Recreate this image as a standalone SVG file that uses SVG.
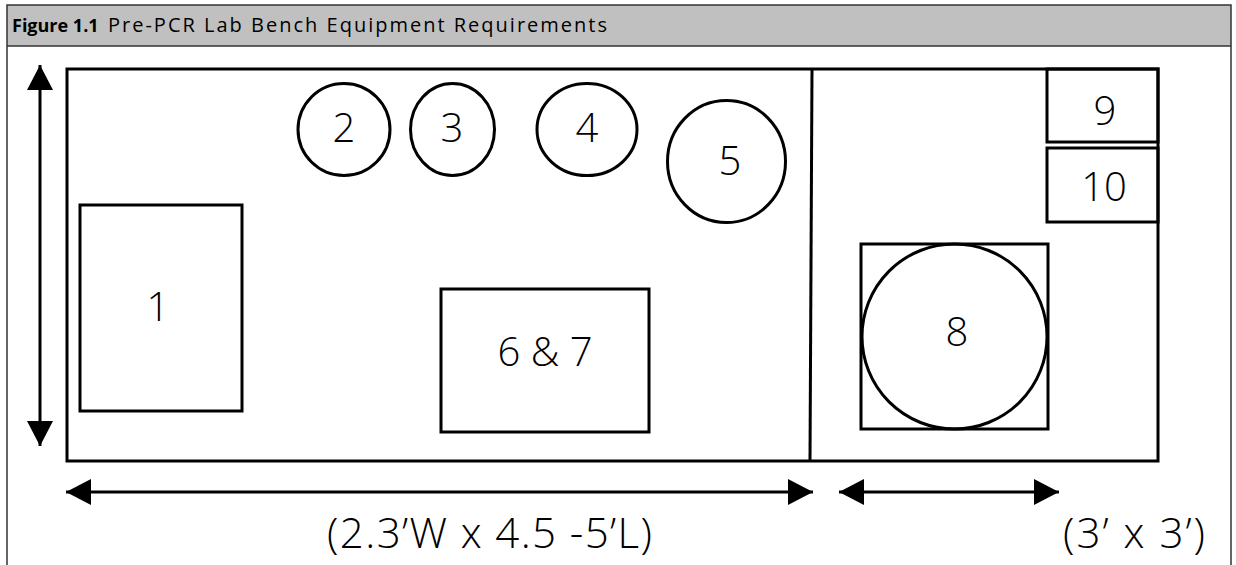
<svg xmlns="http://www.w3.org/2000/svg" width="1236" height="565" viewBox="0 0 1236 565">
<style>
.frame{fill:none;stroke:#333;stroke-width:1.5}
.shape{fill:none;stroke:#000;stroke-width:3}
.dim{stroke:#000;stroke-width:3}
.num{font-family:"Open Sans","Noto Sans",sans-serif;font-weight:300;font-size:40px;fill:#000;text-anchor:middle}
.lbl{font-family:"Open Sans","Noto Sans",sans-serif;font-weight:300;font-size:42px;fill:#000}
.hdr{font-family:"Open Sans","Noto Sans",sans-serif;font-size:20px;fill:#000}
</style>
<defs>
<marker id="ah" markerUnits="userSpaceOnUse" markerWidth="26" markerHeight="26" refX="25" refY="13" orient="auto-start-reverse" viewBox="0 0 26 26">
<path d="M0,0 L25,13 L0,26 z" fill="#000"/>
</marker>
</defs>
<rect x="0" y="0" width="1236" height="565" fill="#fff"/>
<g id="header">
<rect x="7" y="5" width="1224" height="41" fill="#c0c0c0"/>
<path class="frame" d="M7,565 V5 H1231 V565 M7,46 H1231"/>
<text class="hdr" y="32"><tspan x="12" font-weight="bold" font-size="18">Figure 1.1</tspan><tspan x="108" textLength="499">Pre-PCR Lab Bench Equipment Requirements</tspan></text>
</g>
<g id="bench">
<rect class="shape" x="67" y="69" width="1091" height="392"/>
<line class="shape" x1="812" y1="69" x2="810" y2="461"/>
</g>
<g id="n1"><rect class="shape" x="80" y="205" width="162" height="206"/><text class="num" x="158" y="321">1</text></g>
<g id="n2"><circle class="shape" cx="344" cy="129.5" r="46"/><text class="num" x="344" y="142">2</text></g>
<g id="n3"><ellipse class="shape" cx="452.5" cy="129.5" rx="42" ry="46"/><text class="num" x="452" y="142">3</text></g>
<g id="n4"><ellipse class="shape" cx="587" cy="129.5" rx="50" ry="46"/><text class="num" x="587" y="142">4</text></g>
<g id="n5"><ellipse class="shape" cx="726.5" cy="161.5" rx="59" ry="61"/><text class="num" x="730" y="175">5</text></g>
<g id="n67"><rect class="shape" x="441" y="289" width="208" height="143"/><text class="num" x="545" y="366">6 &amp; 7</text></g>
<g id="n8"><rect class="shape" x="861" y="244" width="187" height="185"/><circle class="shape" cx="954.5" cy="336.5" r="92.5"/><text class="num" x="957" y="346">8</text></g>
<g id="n9"><rect class="shape" x="1047" y="69" width="111" height="73"/><text class="num" x="1105" y="125">9</text></g>
<g id="n10"><rect class="shape" x="1047" y="148" width="111" height="74"/><text class="num" x="1104" y="201">10</text></g>
<g id="connectors">
<line class="dim" x1="40" y1="65" x2="40" y2="446" marker-start="url(#ah)" marker-end="url(#ah)"/>
<line class="dim" x1="66" y1="492" x2="813" y2="492" marker-start="url(#ah)" marker-end="url(#ah)"/>
<line class="dim" x1="839" y1="492" x2="1059" y2="492" marker-start="url(#ah)" marker-end="url(#ah)"/>
</g>
<g id="labels">
<text class="lbl" x="327" y="548" textLength="325">(2.3’W x 4.5 -5’L)</text>
<text class="lbl" x="1063" y="548" textLength="142">(3’ x 3’)</text>
</g>
</svg>
